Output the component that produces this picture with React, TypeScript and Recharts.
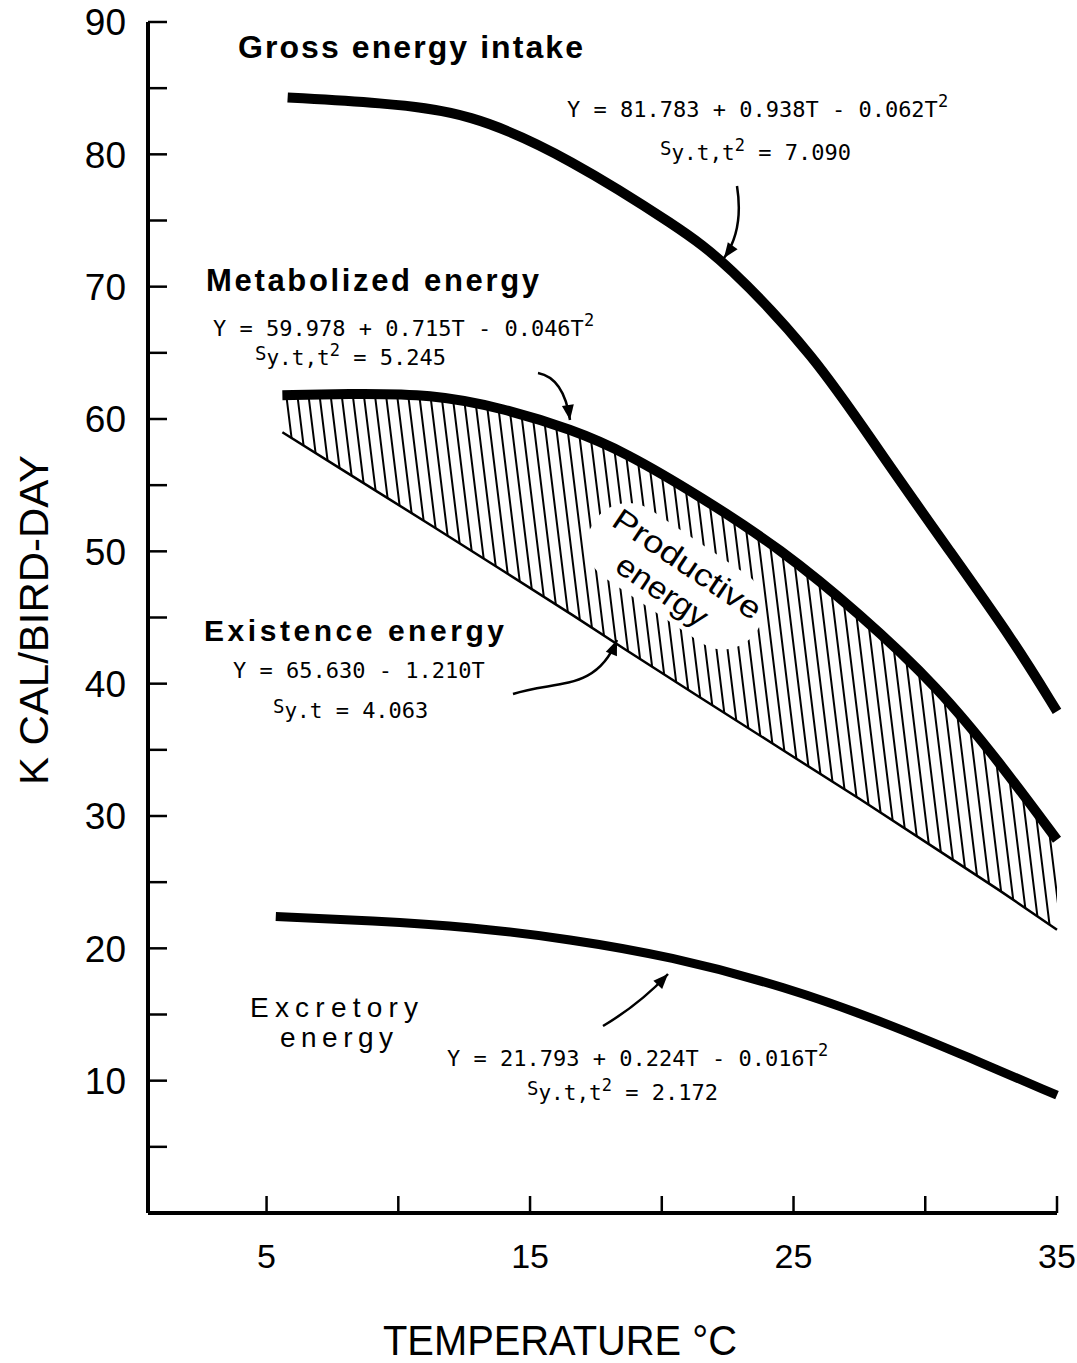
import { ComposedChart, Line, Area, XAxis, YAxis } from 'recharts'

// values: temperature (°C) -> kcal / bird-day
const grossT = [5.8, 9.3, 12.7, 16.5, 20.7, 22.4, 25.8, 28.3, 30.9, 33.4, 35]
const grossKcal = [84.3, 83.9, 83.2, 79.7, 74.4, 71.9, 64.8, 57.4, 50.1, 43.1, 37.9]

const metabT = [5.6, 8, 11.3, 14, 16.6, 18.6, 21.5, 24.5, 27.5, 30.5, 32.8, 35]
const metabKcal = [61.8, 61.9, 61.9, 60.8, 59.2, 57.5, 54.1, 50.2, 45.3, 39.7, 34.1, 28.2]
const existKcal = [59.0, 56.0, 51.9, 48.5, 45.2, 42.6, 38.9, 35.1, 31.3, 27.4, 24.4, 21.4]

const excretT = [5.35, 9, 12.8, 16.5, 20.3, 24.7, 28.6, 31.6, 35]
const excretKcal = [22.4, 22.1, 21.6, 20.7, 19.4, 17.1, 14.3, 11.8, 8.9]

const xTicks = [5, 10, 15, 20, 25, 30, 35]
const xLabels = [5, 15, 25, 35]
const yTicks = [5, 10, 15, 20, 25, 30, 35, 40, 45, 50, 55, 60, 65, 70, 75, 80, 85, 90]
const yLabels = [10, 20, 30, 40, 50, 60, 70, 80, 90]

const grossRows = grossT.map((t, i) => ({ t, v: grossKcal[i] }))
const metabRows = metabT.map((t, i) => ({ t, v: metabKcal[i] }))
const existRows = metabT.map((t, i) => ({ t, v: existKcal[i] }))
const bandRows = metabT.map((t, i) => ({ t, range: [existKcal[i], metabKcal[i]] }))
const excretRows = excretT.map((t, i) => ({ t, v: excretKcal[i] }))

const W = 1077
const H = 1363
const AXIS_X = 148
const AXIS_Y = 1213
const SANS = '"Liberation Sans", Arial, sans-serif'
const MONO = '"DejaVu Sans Mono", monospace'

const XTick = ({ x, payload }: any) => (
  <g>
    <line x1={x} x2={x} y1={AXIS_Y} y2={AXIS_Y - 17} stroke="#000" strokeWidth={2.5} />
    {xLabels.includes(payload.value) && (
      <text x={x} y={AXIS_Y + 55} textAnchor="middle" fontSize={34} fontFamily={SANS} fill="#000">
        {payload.value}
      </text>
    )}
  </g>
)

const YTick = ({ y, payload }: any) => (
  <g>
    <line x1={AXIS_X} x2={AXIS_X + 19} y1={y} y2={y} stroke="#000" strokeWidth={2.5} />
    {yLabels.includes(payload.value) && (
      <text x={AXIS_X - 22} y={y} dy="0.36em" textAnchor="end" fontSize={37} fontFamily={SANS} fill="#000">
        {payload.value}
      </text>
    )}
  </g>
)

const Arrow = ({ d, from, tip }: any) => {
  const a = Math.atan2(tip[1] - from[1], tip[0] - from[0])
  const bx = tip[0] - 15 * Math.cos(a)
  const by = tip[1] - 15 * Math.sin(a)
  const s = Math.sin(a)
  const c = Math.cos(a)
  const pts = `${tip[0]},${tip[1]} ${bx - 6 * s},${by + 6 * c} ${bx + 6 * s},${by - 6 * c}`
  return (
    <g>
      <path d={d} fill="none" stroke="#000" strokeWidth={2.5} />
      <polygon points={pts} fill="#000" />
    </g>
  )
}

const Formula = ({ x, y, text, sup }: any) => (
  <text x={x} y={y} fontSize={22} fontFamily={MONO} fill="#000" style={{ whiteSpace: 'pre' }}>
    {text}
    {sup && (
      <tspan dy={-10} fontSize={17}>
        2
      </tspan>
    )}
  </text>
)

const StdErr = ({ x, y, sub, sup, value }: any) => (
  <text x={x} y={y} fontFamily={MONO} fill="#000" style={{ whiteSpace: 'pre' }}>
    <tspan dy={-5} fontSize={19}>S</tspan>
    <tspan dy={5} fontSize={21}>{sub}</tspan>
    {sup && (
      <tspan dy={-9} fontSize={17}>
        2
      </tspan>
    )}
    <tspan dy={sup ? 9 : 0} fontSize={22}>{' = ' + value}</tspan>
  </text>
)

// labels, equations and arrows drawn over the plot
const Annotations = () => (
  <svg width={W} height={H} style={{ position: 'absolute', left: 0, top: 0, pointerEvents: 'none' }}>
    <text x={238} y={58} fontSize={32} fontWeight="bold" fontFamily={SANS} textLength={345} lengthAdjust="spacing">
      Gross energy intake
    </text>
    <Formula x={567} y={117} text="Y = 81.783 + 0.938T - 0.062T" sup />
    <StdErr x={660} y={160} sub="y.t,t" sup value="7.090" />
    <Arrow d="M737,186 Q744,230 724,258" from={[744, 230]} tip={[724, 258]} />

    <text x={206} y={291} fontSize={31} fontWeight="bold" fontFamily={SANS} textLength={333} lengthAdjust="spacing">
      Metabolized energy
    </text>
    <Formula x={213} y={336} text="Y = 59.978 + 0.715T - 0.046T" sup />
    <StdErr x={255} y={365} sub="y.t,t" sup value="5.245" />
    <Arrow d="M538,373 Q564,378 570,420" from={[564, 378]} tip={[570, 420]} />

    <text x={204} y={641} fontSize={30} fontWeight="bold" fontFamily={SANS} textLength={300} lengthAdjust="spacing">
      Existence energy
    </text>
    <Formula x={233} y={678} text="Y = 65.630 - 1.210T" />
    <StdErr x={273} y={718} sub="y.t" value="4.063" />
    <Arrow d="M513,694 C556,680 596,692 617,640" from={[596, 692]} tip={[617, 640]} />

    <text x={250} y={1017} fontSize={28} fontFamily={SANS} textLength={168} lengthAdjust="spacing">
      Excretory
    </text>
    <text x={280} y={1047} fontSize={28} fontFamily={SANS} textLength={113} lengthAdjust="spacing">
      energy
    </text>
    <Formula x={447} y={1066} text="Y = 21.793 + 0.224T - 0.016T" sup />
    <StdErr x={527} y={1100} sub="y.t,t" sup value="2.172" />
    <Arrow d="M603,1026 Q640,1004 668,974" from={[640, 1004]} tip={[668, 974]} />

    <g transform="translate(675,577) rotate(34)">
      <rect x={-98} y={-42} width={196} height={82} rx={40} fill="#fff" />
      <text x={3} y={-7} textAnchor="middle" fontSize={31} fontFamily={SANS} textLength={172} lengthAdjust="spacingAndGlyphs">
        Productive
      </text>
      <text x={-3} y={29} textAnchor="middle" fontSize={31} fontFamily={SANS} textLength={104} lengthAdjust="spacingAndGlyphs">
        energy
      </text>
    </g>

    <text transform="translate(48,620) rotate(-90)" textAnchor="middle" fontSize={40} fontFamily={SANS} textLength={330} lengthAdjust="spacingAndGlyphs">
      K CAL/BIRD-DAY
    </text>
    <text x={383} y={1355} fontSize={42} fontFamily={SANS} textLength={354} lengthAdjust="spacingAndGlyphs">
      TEMPERATURE °C
    </text>
  </svg>
)

export default function App() {
  return (
    <div style={{ position: 'relative', width: W, height: H, background: '#fff' }}>
      <style>{'html, body { margin: 0; padding: 0; overflow: hidden; }'}</style>
      <ComposedChart width={W} height={H} margin={{ top: 22, right: 20, bottom: 90, left: 48 }}>
        <defs>
          <pattern id="hatch" patternUnits="userSpaceOnUse" width={11} height={11} patternTransform="rotate(-7)">
            <line x1={5} y1={-2} x2={5} y2={13} stroke="#000" strokeWidth={2} />
          </pattern>
        </defs>
        <XAxis
          type="number"
          dataKey="t"
          domain={[0.5, 35]}
          ticks={xTicks}
          interval={0}
          height={60}
          axisLine={{ stroke: '#000', strokeWidth: 4 }}
          tickLine={false}
          tick={(p: any) => <XTick {...p} />}
        />
        <YAxis
          type="number"
          domain={[0, 90]}
          ticks={yTicks}
          interval={0}
          width={100}
          axisLine={{ stroke: '#000', strokeWidth: 4 }}
          tickLine={false}
          tick={(p: any) => <YTick {...p} />}
        />
        <Area data={bandRows} dataKey="range" type="basis" fill="url(#hatch)" fillOpacity={1} stroke="none" isAnimationActive={false} />
        <Line data={existRows} dataKey="v" type="linear" stroke="#000" strokeWidth={2.5} dot={false} isAnimationActive={false} />
        <Line data={metabRows} dataKey="v" type="basis" stroke="#000" strokeWidth={10} dot={false} isAnimationActive={false} />
        <Line data={grossRows} dataKey="v" type="basis" stroke="#000" strokeWidth={10} dot={false} isAnimationActive={false} />
        <Line data={excretRows} dataKey="v" type="basis" stroke="#000" strokeWidth={9} dot={false} isAnimationActive={false} />
      </ComposedChart>
      <Annotations />
    </div>
  )
}
